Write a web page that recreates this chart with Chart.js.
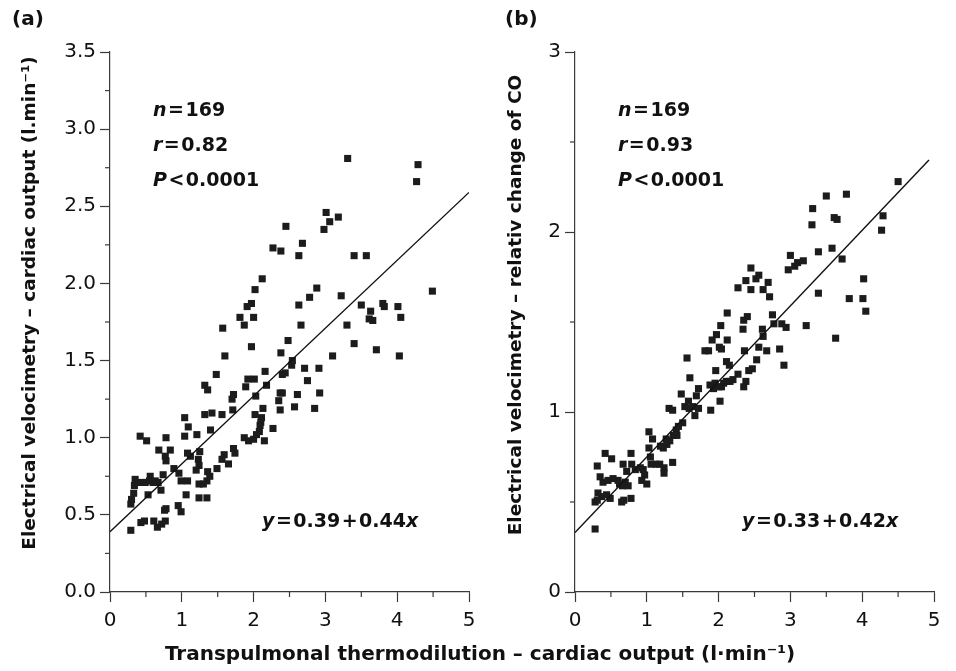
<!DOCTYPE html>
<html>
<head>
<meta charset="utf-8">
<script src="https://cdn.jsdelivr.net/npm/chart.js@4.4.0/dist/chart.umd.min.js"></script>
<style>
  html, body { margin: 0; padding: 0; background: #fff; }
  body { width: 956px; height: 671px; position: relative; overflow: hidden; font-family: "DejaVu Sans", sans-serif; }
  canvas { position: absolute; top: 0; }
  #ca { left: 0; }
  #cb { left: 478px; }
  .lbl { position: absolute; font-weight: bold; font-size: 20px; color: #111; line-height: 20px; }
  #xtitle { left: 0; width: 960px; text-align: center; top: 643px; }
</style>
</head>
<body>
<canvas id="ca" width="478" height="671"></canvas>
<canvas id="cb" width="478" height="671"></canvas>
<div class="lbl" style="left:12px; top:8px;">(a)</div>
<div class="lbl" style="left:505px; top:8px;">(b)</div>
<div class="lbl" id="xtitle">Transpulmonal thermodilution – cardiac output (l·min⁻¹)</div>
<script>
// panel (a): EV cardiac output vs TPTD cardiac output
const xA = [3.31, 4.29, 4.27, 3.01, 3.06, 3.18, 2.98, 2.45, 2.68, 2.27, 2.38, 2.63, 3.40, 3.57, 2.12, 2.02, 2.88, 2.78, 3.22, 4.49,
  1.97, 1.91, 2.63, 3.50, 3.63, 3.80, 3.82, 4.01, 4.05, 1.81, 2.00, 3.61, 3.66, 1.87, 1.57, 2.66, 3.30, 2.48, 1.97, 3.40,
  3.71, 1.60, 2.38, 3.10, 4.03, 2.54, 2.53, 1.48, 2.16, 2.71, 2.91, 2.40, 2.44, 1.92, 2.01, 1.89, 1.32, 1.36, 2.18, 2.75,
  1.72, 1.70, 2.03, 2.37, 2.40, 2.61, 2.92, 2.35, 2.57, 2.85, 2.37, 2.13, 1.04, 1.32, 1.42, 1.56, 1.71, 2.02, 2.11, 2.10,
  2.09, 1.09, 1.40, 2.27, 0.42, 0.51, 0.78, 1.04, 1.21, 1.87, 1.93, 2.00, 2.04, 2.08, 2.15, 0.68, 0.84, 0.77, 0.78, 1.08,
  1.12, 1.25, 1.23, 1.24, 1.59, 1.56, 1.65, 1.74, 1.72, 1.49, 0.89, 0.96, 1.20, 1.36, 1.39, 1.35, 1.30, 1.24, 0.74, 0.56,
  0.55, 0.60, 0.63, 0.67, 0.35, 0.34, 0.38, 0.44, 0.49, 0.33, 0.30, 0.29, 0.53, 0.71, 0.99, 1.08, 1.06, 1.24, 1.35, 0.78,
  0.76, 0.95, 0.99, 0.43, 0.48, 0.61, 0.66, 0.72, 0.77, 0.29];
const yA = [2.81, 2.77, 2.66, 2.46, 2.40, 2.43, 2.35, 2.37, 2.26, 2.23, 2.21, 2.18, 2.18, 2.18, 2.03, 1.96, 1.97, 1.91, 1.92, 1.95,
  1.87, 1.85, 1.86, 1.86, 1.82, 1.87, 1.85, 1.85, 1.78, 1.78, 1.78, 1.77, 1.76, 1.73, 1.71, 1.73, 1.73, 1.63, 1.59, 1.61,
  1.57, 1.53, 1.55, 1.53, 1.53, 1.50, 1.47, 1.41, 1.43, 1.45, 1.45, 1.41, 1.42, 1.38, 1.38, 1.33, 1.34, 1.31, 1.34, 1.37,
  1.28, 1.25, 1.27, 1.29, 1.29, 1.28, 1.29, 1.24, 1.20, 1.19, 1.18, 1.19, 1.13, 1.15, 1.16, 1.15, 1.18, 1.15, 1.13, 1.10,
  1.08, 1.07, 1.05, 1.06, 1.01, 0.98, 1.00, 1.01, 1.02, 1.00, 0.98, 0.99, 1.02, 1.04, 0.98, 0.92, 0.92, 0.88, 0.85, 0.90,
  0.88, 0.91, 0.86, 0.82, 0.89, 0.86, 0.83, 0.90, 0.93, 0.80, 0.80, 0.77, 0.79, 0.78, 0.75, 0.72, 0.70, 0.70, 0.76, 0.75,
  0.72, 0.71, 0.72, 0.71, 0.73, 0.69, 0.71, 0.71, 0.71, 0.64, 0.60, 0.57, 0.63, 0.66, 0.72, 0.72, 0.63, 0.61, 0.61, 0.54,
  0.53, 0.56, 0.52, 0.45, 0.46, 0.46, 0.42, 0.44, 0.46, 0.40];
const fitAx = [0, 5];
const fitAy = [0.39, 2.59];

// panel (b): EV relative change of CO
const xB = [4.50, 3.50, 3.78, 3.31, 3.30, 3.61, 3.65, 4.29, 4.27, 3.58, 3.39, 3.72, 3.00, 3.10, 3.18, 2.97, 3.06, 2.45, 2.56, 2.38,
  2.52, 2.27, 2.45, 2.62, 2.69, 2.71, 4.02, 3.39, 3.82, 4.01, 4.05, 2.12, 2.40, 2.75, 2.35, 2.03, 3.22, 2.34, 2.61, 2.62,
  2.77, 2.88, 2.94, 3.63, 1.97, 1.91, 2.12, 2.01, 2.04, 1.81, 1.86, 2.36, 2.56, 2.67, 2.85, 1.56, 2.11, 2.15, 2.53, 2.47,
  2.42, 2.91, 1.96, 1.60, 2.27, 2.20, 2.16, 2.11, 2.07, 2.38, 2.35, 1.88, 1.93, 2.00, 2.04, 1.95, 1.72, 1.69, 1.48, 2.02,
  1.89, 1.58, 1.53, 1.64, 1.72, 1.67, 1.59, 1.31, 1.36, 1.50, 1.44, 1.41, 1.37, 1.32, 1.28, 1.23, 1.19, 1.27, 1.42, 1.03,
  1.08, 1.03, 1.05, 1.13, 1.18, 1.24, 1.24, 1.36, 1.06, 0.42, 0.51, 0.78, 0.31, 0.35, 0.39, 0.46, 0.53, 0.60, 0.67, 0.72,
  0.79, 0.84, 0.91, 0.95, 1.00, 0.97, 0.93, 0.62, 0.66, 0.70, 0.74, 0.78, 0.65, 0.68, 0.32, 0.37, 0.44, 0.49, 0.28, 0.31,
  0.28];
const yB = [2.28, 2.20, 2.21, 2.13, 2.04, 2.08, 2.07, 2.09, 2.01, 1.91, 1.89, 1.85, 1.87, 1.83, 1.84, 1.79, 1.81, 1.80, 1.76, 1.73,
  1.74, 1.69, 1.68, 1.68, 1.72, 1.64, 1.74, 1.66, 1.63, 1.63, 1.56, 1.55, 1.53, 1.54, 1.51, 1.48, 1.48, 1.46, 1.46, 1.42,
  1.49, 1.49, 1.47, 1.41, 1.43, 1.40, 1.40, 1.36, 1.35, 1.34, 1.34, 1.34, 1.36, 1.34, 1.35, 1.30, 1.28, 1.26, 1.29, 1.24,
  1.23, 1.26, 1.23, 1.19, 1.21, 1.18, 1.17, 1.17, 1.16, 1.17, 1.14, 1.15, 1.13, 1.14, 1.14, 1.16, 1.13, 1.09, 1.10, 1.06,
  1.01, 1.06, 1.03, 1.03, 1.02, 0.98, 1.02, 1.02, 1.01, 0.94, 0.92, 0.90, 0.87, 0.84, 0.82, 0.80, 0.81, 0.85, 0.87, 0.89,
  0.85, 0.80, 0.75, 0.71, 0.71, 0.69, 0.66, 0.72, 0.71, 0.77, 0.74, 0.77, 0.70, 0.64, 0.61, 0.62, 0.63, 0.62, 0.71, 0.67,
  0.71, 0.68, 0.69, 0.68, 0.60, 0.65, 0.62, 0.60, 0.59, 0.61, 0.59, 0.52, 0.50, 0.51, 0.55, 0.53, 0.54, 0.52, 0.50, 0.51,
  0.35];
const fitBx = [0, 4.93];
const fitBy = [0.33, 2.40];

const statsA = [["n", "=169"], ["r", "=0.82"], ["P", "<0.0001"]];
const statsB = [["n", "=169"], ["r", "=0.93"], ["P", "<0.0001"]];
const eqA = "=0.39+0.44";
const eqB = "=0.33+0.42";

const FONT = '"DejaVu Sans", sans-serif';
const AXIS = '#3a3a3a';

function pts(xs, ys) {
  return xs.map((x, i) => ({ x: x, y: ys[i] }));
}

// mixed italic/bold text run, thin gap around the operators
function drawRun(ctx, x, y, parts) {
  parts.forEach(([t, it]) => {
    ctx.font = (it ? 'italic ' : '') + 'bold 19px ' + FONT;
    for (const ch of t) {
      const gap = '=<+'.includes(ch) ? 1.5 : 0;
      x += gap;
      ctx.fillText(ch, x, y);
      x += ctx.measureText(ch).width + gap;
    }
  });
}

// short minor ticks (the library draws only one tick length)
const minorTicks = {
  id: 'minorTicks',
  afterDraw(chart) {
    const ctx = chart.ctx;
    ctx.save();
    ctx.strokeStyle = AXIS;
    ctx.lineWidth = 1.2;
    ['x', 'y'].forEach((id) => {
      const s = chart.scales[id];
      s.ticks.forEach((t) => {
        if (t.label !== '') return;
        const p = s.getPixelForValue(t.value);
        ctx.beginPath();
        if (id === 'x') {
          ctx.moveTo(p, s.top);
          ctx.lineTo(p, s.top + 5);
        } else {
          ctx.moveTo(s.right, p);
          ctx.lineTo(s.right - 5, p);
        }
        ctx.stroke();
      });
    });
    ctx.restore();
  }
};

// stats, regression equation and the rotated y title
const annot = {
  id: 'annot',
  afterDraw(chart, args, opts) {
    const ctx = chart.ctx;
    const a = chart.chartArea;
    ctx.save();
    ctx.fillStyle = '#111';
    ctx.textBaseline = 'alphabetic';
    ctx.textAlign = 'left';
    opts.stats.forEach((s, i) => {
      drawRun(ctx, a.left + opts.sx, a.top + 64 + i * 35, [[s[0], true], [s[1], false]]);
    });
    drawRun(ctx, a.left + opts.ex, a.bottom - 65, [['y', true], [opts.eq, false], ['x', true]]);
    ctx.translate(opts.tx, opts.ty);
    ctx.rotate(-Math.PI / 2);
    ctx.textAlign = 'center';
    ctx.textBaseline = 'middle';
    ctx.font = 'bold 18.5px ' + FONT;
    ctx.fillText(opts.title, 0, 0);
    ctx.restore();
  }
};

function makeChart(id, xs, ys, fx, fy, yMax, yStep, yDec, yWidth, padRight, notes) {
  return new Chart(document.getElementById(id), {
    type: 'scatter',
    data: {
      datasets: [
        {
          data: pts(fx, fy),
          showLine: true,
          borderColor: '#111',
          borderWidth: 1.4,
          pointRadius: 0,
          fill: false,
        },
        {
          data: pts(xs, ys),
          pointStyle: 'rect',
          pointRadius: 5,
          pointBorderWidth: 0,
          backgroundColor: '#1c1c1c',
          borderColor: '#1c1c1c',
        },
      ],
    },
    options: {
      responsive: false,
      animation: false,
      devicePixelRatio: 1,
      layout: { padding: { top: 52, right: padRight, left: 0, bottom: 0 } },
      plugins: {
        legend: { display: false },
        tooltip: { enabled: false },
        annot: notes,
      },
      scales: {
        x: {
          type: 'linear',
          min: 0,
          max: 5,
          afterFit: (s) => {
            s.height = 79;
            s.paddingLeft = 0;
            s.paddingRight = 0;
          },
          border: { display: true, color: AXIS, width: 1.2 },
          grid: {
            drawOnChartArea: false,
            tickLength: 10,
            tickWidth: 1.2,
            tickColor: (c) => (c.tick && c.tick.label === '' ? 'rgba(0,0,0,0)' : AXIS),
          },
          ticks: {
            stepSize: 0.5,
            autoSkip: false,
            maxRotation: 0,
            padding: 7,
            color: '#111',
            font: { family: FONT, size: 20 },
            callback: (v) => (Number.isInteger(v) ? String(v) : ''),
          },
        },
        y: {
          type: 'linear',
          min: 0,
          max: yMax,
          afterFit: (s) => { s.width = yWidth; },
          border: { display: true, color: AXIS, width: 1.2 },
          grid: {
            drawOnChartArea: false,
            tickLength: 10,
            tickWidth: 1.2,
            tickColor: (c) => (c.tick && c.tick.label === '' ? 'rgba(0,0,0,0)' : AXIS),
          },
          ticks: {
            stepSize: yStep,
            autoSkip: false,
            padding: 4,
            color: '#111',
            font: { family: FONT, size: 20 },
            callback: (v) => {
              const major = yDec ? Math.abs(v * 2 - Math.round(v * 2)) < 1e-6 : Number.isInteger(v);
              return major ? v.toFixed(yDec) : '';
            },
          },
        },
      },
    },
    plugins: [minorTicks, annot],
  });
}

makeChart('ca', xA, yA, fitAx, fitAy, 3.5, 0.25, 1, 110, 9, {
  stats: statsA, eq: eqA, sx: 43, ex: 152,
  title: 'Electrical velocimetry – cardiac output (l.min⁻¹)', tx: 30, ty: 303,
});
makeChart('cb', xB, yB, fitBx, fitBy, 3, 0.5, 0, 97, 22, {
  stats: statsB, eq: eqB, sx: 43, ex: 167,
  title: 'Electrical velocimetry – relativ change of CO', tx: 38, ty: 305,
});
</script>
</body>
</html>
